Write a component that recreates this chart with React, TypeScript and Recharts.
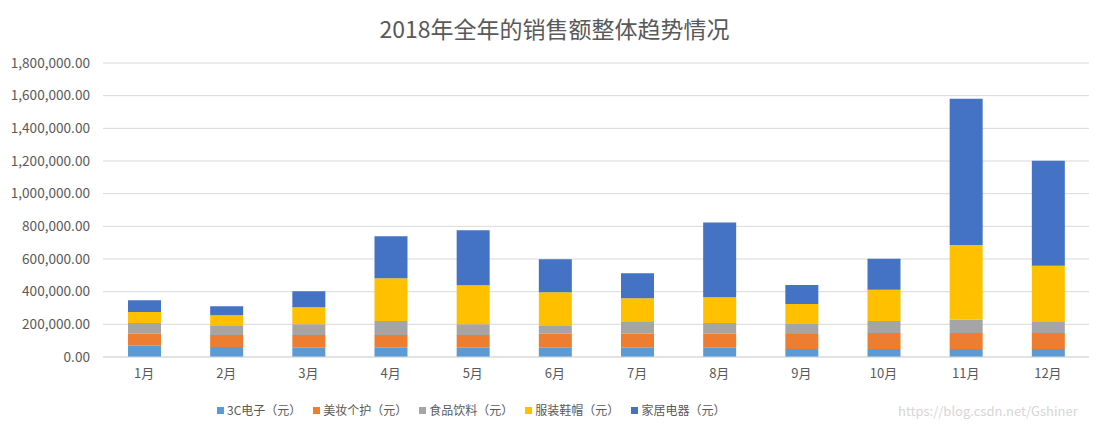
import { Bar, BarChart, CartesianGrid, XAxis, YAxis } from "recharts";

const months = ["1月", "2月", "3月", "4月", "5月", "6月", "7月", "8月", "9月", "10月", "11月", "12月"];
const electronics = [69000, 61000, 57000, 57000, 57000, 57000, 57000, 57000, 49000, 49000, 49000, 49000];
const beauty = [73000, 73000, 77000, 77000, 77000, 85000, 85000, 85000, 92000, 98000, 98000, 98000];
const food = [66000, 61000, 67000, 86000, 67000, 53000, 72000, 66000, 61000, 74000, 82000, 68000];
const clothing = [67000, 61000, 104000, 262000, 239000, 202000, 146000, 158000, 123000, 190000, 457000, 343000];
const home = [73000, 55000, 98000, 257000, 336000, 201000, 153000, 458000, 116000, 190000, 895000, 643000];
const yTicks = [0, 200000, 400000, 600000, 800000, 1000000, 1200000, 1400000, 1600000, 1800000];

const SERIES = [
  { key: "electronics", name: "3C电子（元）", color: "#5B9BD5", values: electronics },
  { key: "beauty", name: "美妆个护（元）", color: "#ED7D31", values: beauty },
  { key: "food", name: "食品饮料（元）", color: "#A5A5A5", values: food },
  { key: "clothing", name: "服装鞋帽（元）", color: "#FFC000", values: clothing },
  { key: "home", name: "家居电器（元）", color: "#4472C4", values: home },
];

const data = months.map((month, i) => {
  const row: Record<string, string | number> = { month };
  SERIES.forEach((s) => {
    row[s.key] = s.values[i];
  });
  return row;
});

const FONT = '"Noto Sans CJK SC", "Noto Sans", sans-serif';
const TEXT = "#595959";

const fmt = (v: number) =>
  v.toLocaleString("en-US", { minimumFractionDigits: 2, maximumFractionDigits: 2 });

export default function App() {
  return (
    <div style={{ position: "absolute", left: 0, top: 0, width: 1109, height: 436, background: "#fff", fontFamily: FONT }}>
      <div
        style={{
          position: "absolute",
          left: 0,
          top: 12,
          width: 1109,
          textAlign: "center",
          fontSize: 23,
          color: TEXT,
          lineHeight: "32px",
        }}
      >
        2018年全年的销售额整体趋势情况
      </div>
      <BarChart
        width={1109}
        height={436}
        data={data}
        margin={{ top: 63, right: 20, left: 0, bottom: 49 }}
      >
        <CartesianGrid stroke="#D9D9D9" vertical={false} />
        <XAxis
          dataKey="month"
          height={30}
          axisLine={{ stroke: "#D9D9D9" }}
          tickLine={false}
          tickMargin={6}
          tick={{ fill: TEXT, fontSize: 13, fontFamily: FONT }}
        />
        <YAxis
          width={103}
          domain={[0, 1800000]}
          ticks={yTicks}
          axisLine={false}
          tickLine={false}
          tickMargin={7}
          tickFormatter={fmt}
          tick={{ fill: TEXT, fontSize: 13.6, fontFamily: FONT }}
        />
        {SERIES.map((s) => (
          <Bar
            key={s.key}
            dataKey={s.key}
            name={s.name}
            stackId="a"
            fill={s.color}
            barSize={33}
            isAnimationActive={false}
          />
        ))}
      </BarChart>
      <div
        style={{
          position: "absolute",
          left: 217,
          top: 401,
          display: "flex",
          alignItems: "center",
          fontSize: 12,
          color: TEXT,
          lineHeight: "18px",
        }}
      >
        {SERIES.map((s) => (
          <div key={s.key} style={{ display: "flex", alignItems: "center", marginRight: 12 }}>
            <span style={{ width: 7, height: 7, background: s.color, display: "inline-block", marginRight: 3 }} />
            <span>{s.name}</span>
          </div>
        ))}
      </div>
      <div
        style={{
          position: "absolute",
          left: 898,
          top: 402,
          fontSize: 13,
          color: "#d6d6d6",
          lineHeight: "18px",
        }}
      >
        https://blog.csdn.net/Gshiner
      </div>
    </div>
  );
}
